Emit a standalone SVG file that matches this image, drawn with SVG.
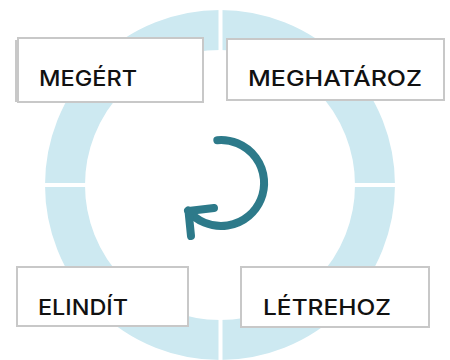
<svg xmlns="http://www.w3.org/2000/svg" width="450" height="360" viewBox="0 0 450 360">
<defs>
<style>
.box{fill:#ffffff;stroke:#c8c8c8;stroke-width:2}
.lbl{font-family:Inter,"Liberation Sans",sans-serif;font-weight:500;font-size:22px;fill:#111111}
.ring{fill:none;stroke:#cde9f1;stroke-width:40}
.gap{stroke:#ffffff;stroke-width:4}
.arr{fill:none;stroke:#2d7a8a;stroke-width:8;stroke-linecap:round;stroke-linejoin:round}
</style>
</defs>
<rect width="450" height="360" fill="#ffffff"/>
<g id="ring">
<circle class="ring" cx="220" cy="185" r="155"/>
<line class="gap" x1="220.5" y1="0" x2="220.5" y2="360"/>
<line class="gap" x1="30" y1="185" x2="410" y2="185"/>
</g>
<g id="cycle-arrow">
<path class="arr" d="M217.3,140.2 A43,43 0 1 1 188.1,210.6"/>
<path class="arr" d="M214,208 L188.5,211 L191,236"/>
</g>
<g id="connectors"></g>
<g id="node-megert">
<rect x="15" y="40" width="4" height="62" fill="#c8c8c8"/>
<rect class="box" x="18" y="38" width="185" height="64"/>
<text class="lbl" x="39" y="86" textLength="98" lengthAdjust="spacingAndGlyphs">MEGÉRT</text>
</g>
<g id="node-meghataroz">
<rect class="box" x="227" y="39" width="217" height="61"/>
<text class="lbl" x="248" y="86" textLength="174" lengthAdjust="spacingAndGlyphs">MEGHATÁROZ</text>
</g>
<g id="node-elindit">
<rect class="box" x="17" y="267" width="171" height="59"/>
<text class="lbl" x="38" y="315" textLength="90" lengthAdjust="spacingAndGlyphs">ELINDÍT</text>
</g>
<g id="node-letrehoz">
<rect class="box" x="241" y="267" width="188" height="60"/>
<text class="lbl" x="263" y="315" textLength="128" lengthAdjust="spacingAndGlyphs">LÉTREHOZ</text>
</g>
</svg>
